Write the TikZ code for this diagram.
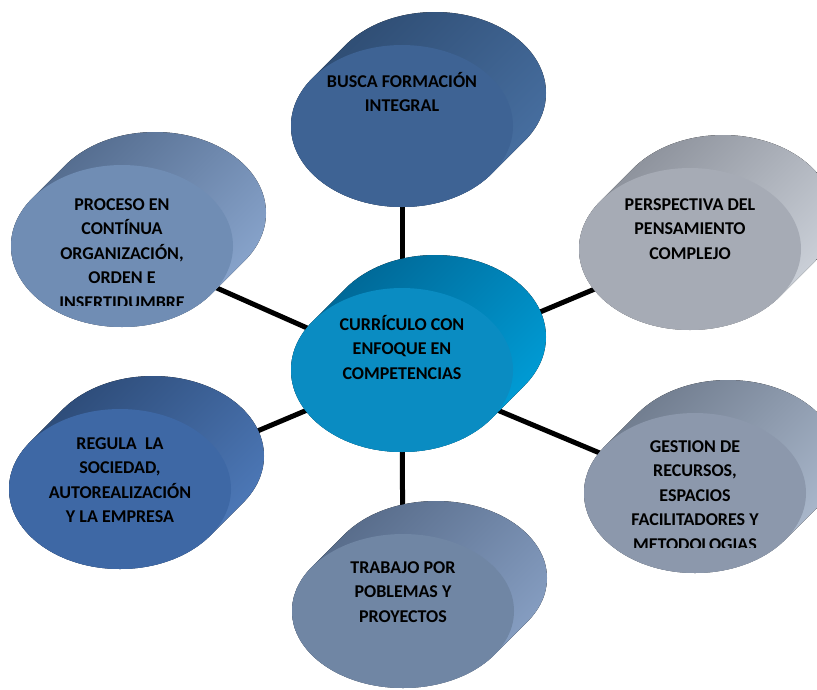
\documentclass[tikz,border=0pt]{standalone}
\usepackage{fontspec}
\setmainfont{Carlito}
\usetikzlibrary{shapes.geometric,backgrounds}
\definecolor{nDark}{RGB}{46,76,114}\definecolor{nLight}{RGB}{72,112,162}\definecolor{nFront}{RGB}{62,99,148}
\definecolor{nwDark}{RGB}{82,106,140}\definecolor{nwLight}{RGB}{138,166,206}\definecolor{nwFront}{RGB}{112,141,180}
\definecolor{neDark}{RGB}{138,143,153}\definecolor{neLight}{RGB}{206,211,219}\definecolor{neFront}{RGB}{166,171,181}
\definecolor{cDark}{RGB}{0,102,148}\definecolor{cLight}{RGB}{0,158,216}\definecolor{cFront}{RGB}{10,140,194}
\definecolor{swDark}{RGB}{44,74,118}\definecolor{swLight}{RGB}{78,122,186}\definecolor{swFront}{RGB}{62,104,165}
\definecolor{seDark}{RGB}{110,122,140}\definecolor{seLight}{RGB}{172,186,206}\definecolor{seFront}{RGB}{140,152,172}
\definecolor{sDark}{RGB}{86,106,136}\definecolor{sLight}{RGB}{136,160,196}\definecolor{sFront}{RGB}{112,134,164}
% #1 name (colours #1Dark, #1Light, #1Front), #2 x, #3 y, #4 y radius,
% #5 text top offset, #6 clip bottom offset, #7 text
\newcommand{\cylnode}[7]{%
  \fill[top color=#1Dark, bottom color=#1Light, shading angle=45]
    \foreach \k in {0,...,24}{ ({#2+33*\k/24},{#3-33*\k/24}) ellipse [x radius=111pt, y radius=#4pt] };
  \node[face, fill=#1Front, minimum height=2*#4pt] (#1) at (#2,#3) {};
  \begin{scope}
    \clip ({#2-111},{#3-90}) rectangle ({#2+111},{#3+#6});
    \node[lbl] (#1-t) at ({#2},{#3+#5}) {\strut#7};
  \end{scope}
}
\begin{document}
\begin{tikzpicture}[x=1pt,y=-1pt,
  face/.style={ellipse, inner sep=0pt, minimum width=222pt},
  lbl/.style={align=center, anchor=north, inner sep=0pt, text=black,
    font=\bfseries\fontsize{18}{24.5}\selectfont},
  link/.style={line width=5pt, black}]
\useasboundingbox (0,0) rectangle (817,689);
\clip (0,0) rectangle (817,689);
\cylnode{n}{402}{126}{81}{-56}{58}{BUSCA FORMACIÓN\\INTEGRAL}
\cylnode{nw}{122}{246}{81}{-53}{59}{PROCESO EN\\CONTÍNUA\\ORGANIZACIÓN,\\ORDEN E\\INSERTIDUMBRE}
\cylnode{ne}{690}{249}{81}{-56}{58}{PERSPECTIVA DEL\\PENSAMIENTO\\COMPLEJO}
\cylnode{sw}{120}{489}{80}{-57}{58}{REGULA\ \ LA\\SOCIEDAD,\\AUTOREALIZACIÓN\\Y LA EMPRESA}
\cylnode{se}{695}{493}{80}{-58}{54}{GESTION DE\\RECURSOS,\\ESPACIOS\\FACILITADORES Y\\METODOLOGIAS}
\cylnode{s}{403}{611}{77}{-55}{58}{TRABAJO POR\\POBLEMAS Y\\PROYECTOS}
\cylnode{c}{402}{370}{82}{-57}{58}{CURRÍCULO CON\\ENFOQUE EN\\COMPETENCIAS}
\begin{pgfonlayer}{background}
  \foreach \m in {n,nw,ne,sw,se,s}{ \draw[link] (c.center) -- (\m.center); }
\end{pgfonlayer}
\end{tikzpicture}
\end{document}
